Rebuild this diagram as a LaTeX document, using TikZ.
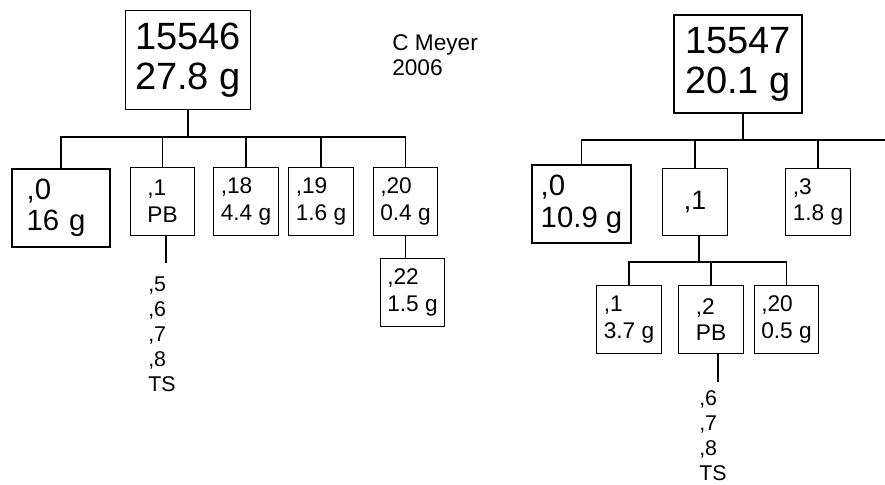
\documentclass[tikz,border=0pt]{standalone}
\usepackage{fontspec}
\setmainfont{Liberation Sans}
\tikzset{
    box/.style={draw, line width=0.9pt, align=left, inner sep=0pt},
    rootbox/.style={box, minimum width=94pt, minimum height=74pt, font=\fontsize{28.5}{30}\selectfont},
    bigbox/.style={box, minimum height=58.5pt},
    smallbox/.style={box, minimum width=48.5pt, minimum height=50.5pt, font=\fontsize{17}{20}\selectfont},
    list/.style={align=left, inner sep=0pt, anchor=north west, font=\fontsize{16}{18.75}\selectfont},
    link/.style={line width=0.9pt}
}
\begin{document}
\begin{tikzpicture}[x=0.75pt, y=-0.75pt]
    \useasboundingbox (0,0) rectangle (885,485);
    % first tree
    \node [rootbox] (rootA) at (188,60) {15546\\27.8 g};
    \node [bigbox, inner xsep=11pt, text width=51.5pt, font=\fontsize{22}{23}\selectfont] (a0) at (61,208) {,0\\16 g};
    \node [smallbox] (a1) at (162.5,201.5) {,1\\PB};
    \node [smallbox] (a18) at (246,201.5) {,18\\4.4 g};
    \node [smallbox] (a19) at (321,201.5) {,19\\1.6 g};
    \node [smallbox] (a20) at (405.5,201.5) {,20\\0.4 g};
    \node [smallbox] (a22) at (412.5,292.5) {,22\\1.5 g};
    \node [list] (listA) at (148,277) {,5\\,6\\,7\\,8\\TS};
    \node [list, font=\fontsize{17}{18.75}\selectfont] (author) at (392,34) {C Meyer\\2006};
    \coordinate (barA) at (188,137);
    \coordinate (a1end) at (166,263);
    \draw [link] (rootA) -- (barA);
    \draw [link] (a0) |- (barA -| a20) -- (a20);
    \foreach \n in {a1,a18,a19}
        \draw [link] (\n) -- (barA -| \n);
    \draw [link] (a1.south -| a1end) -- (a1end);
    \draw [link] (a20.south) -- (a20.south |- a22.north);
    % second tree
    \node [rootbox, minimum width=96pt, minimum height=73.5pt] (rootB) at (738,64) {15547\\20.1 g};
    \node [bigbox, minimum width=74.25pt, font=\fontsize{22}{24}\selectfont] (b0) at (581.5,204) {,0\\10.9 g};
    \node [smallbox, font=\fontsize{20}{20}\selectfont] (b1) at (695,202) {,1};
    \node [smallbox] (b3) at (818,202) {,3\\1.8 g};
    \node [smallbox] (c1) at (629,319.5) {,1\\3.7 g};
    \node [smallbox] (c2) at (711,319.5) {,2\\PB};
    \node [smallbox] (c20) at (786.5,319.5) {,20\\0.5 g};
    \node [list] (listB) at (699,390) {,6\\,7\\,8\\TS};
    \coordinate (barB) at (743,140);
    \coordinate (barBend) at (885,140);
    \coordinate (barC) at (699,262);
    \coordinate (c2end) at (718,382);
    \draw [link] (rootB.south -| barB) -- (barB);
    \draw [link] (b0) |- (barBend);
    \foreach \n in {b1,b3}
        \draw [link] (\n) -- (barB -| \n);
    \draw [link] (b1.south -| barC) -- (barC);
    \draw [link] (c1) |- (barC -| c20) -- (c20);
    \draw [link] (c2) -- (barC -| c2);
    \draw [link] (c2.south -| c2end) -- (c2end);
\end{tikzpicture}
\end{document}
